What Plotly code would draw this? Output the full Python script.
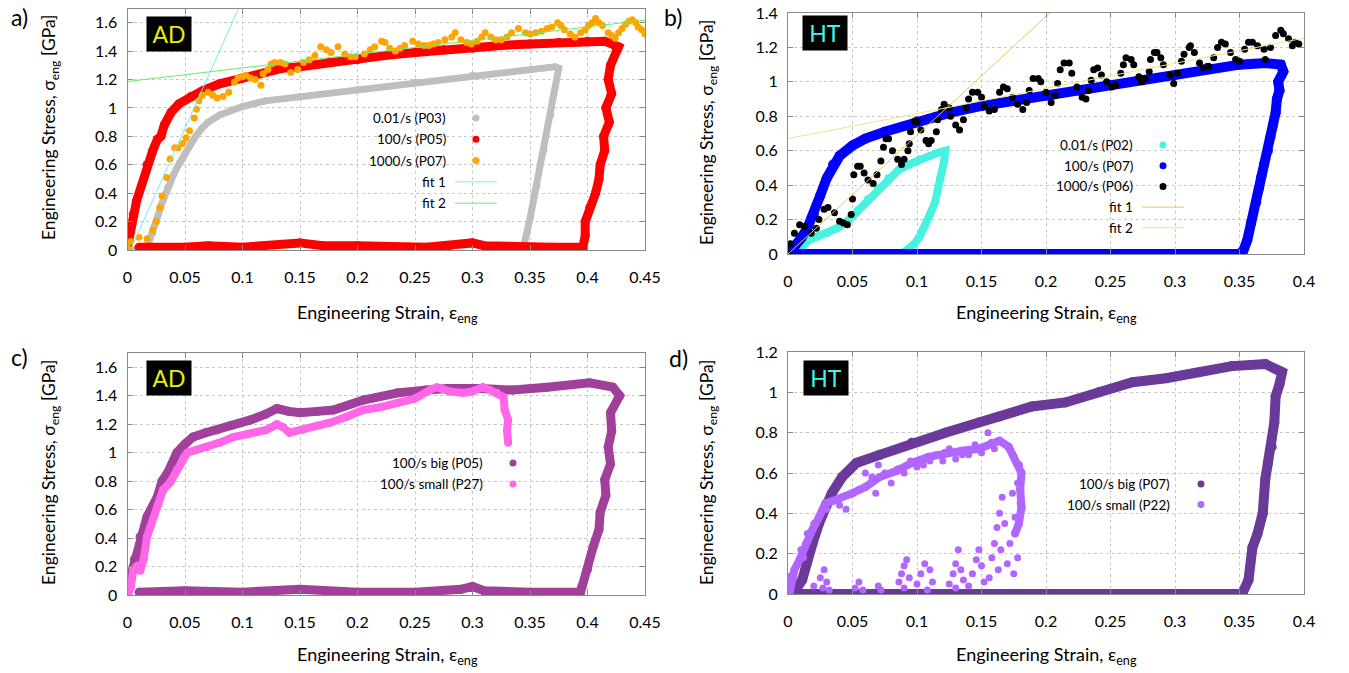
import plotly.graph_objects as go

W, H = 1349, 673
def px(x): return x / W
def py(y): return 1 - y / H

# ---------------- DATA ----------------
# Panel a (AD)
a_p03_x = [0, 0.012, 0.018, 0.022, 0.026, 0.03, 0.035, 0.04, 0.045, 0.05, 0.055, 0.06, 0.065, 0.07, 0.08, 0.09, 0.1, 0.12, 0.15, 0.2, 0.25, 0.3, 0.35, 0.372, 0.375, 0.372, 0.368, 0.362, 0.356, 0.35, 0.346, 0.343]
a_p03_y = [0, 0, 0.04, 0.12, 0.23, 0.33, 0.44, 0.53, 0.61, 0.68, 0.75, 0.81, 0.86, 0.9, 0.95, 0.985, 1.01, 1.05, 1.08, 1.13, 1.18, 1.23, 1.27, 1.29, 1.28, 1.15, 0.95, 0.7, 0.45, 0.22, 0.08, 0.0]

a_p05_x = [0, 0.002, 0.005, 0.008, 0.012, 0.017, 0.022, 0.026, 0.029, 0.032, 0.038, 0.045, 0.055, 0.065, 0.08, 0.1, 0.12, 0.135, 0.15, 0.175, 0.2, 0.225, 0.25, 0.275, 0.3, 0.325, 0.35, 0.375, 0.4, 0.415, 0.427, 0.425, 0.42, 0.418, 0.421, 0.416, 0.419, 0.414, 0.415, 0.411, 0.41, 0.407, 0.402, 0.398, 0.398, 0.396, 0.37, 0.34, 0.31, 0.3, 0.28, 0.26, 0.2, 0.17, 0.15, 0.12, 0.1, 0.07, 0.05, 0.01]
a_p05_y = [0.02, 0.12, 0.25, 0.35, 0.45, 0.6, 0.7, 0.78, 0.8, 0.88, 0.97, 1.03, 1.08, 1.12, 1.17, 1.21, 1.25, 1.28, 1.29, 1.32, 1.34, 1.37, 1.39, 1.41, 1.42, 1.44, 1.45, 1.46, 1.47, 1.47, 1.43, 1.4, 1.3, 1.2, 1.1, 1.0, 0.9, 0.8, 0.7, 0.6, 0.5, 0.4, 0.3, 0.2, 0.1, 0.02, 0.02, 0.02, 0.03, 0.05, 0.03, 0.02, 0.03, 0.03, 0.05, 0.03, 0.02, 0.03, 0.02, 0.02]

a_p07_x = [0.0, 0.003, 0.01, 0.017, 0.022, 0.025, 0.028, 0.03, 0.034, 0.037, 0.041, 0.044, 0.048, 0.051, 0.054, 0.058, 0.06, 0.062, 0.065, 0.07, 0.074, 0.078, 0.083, 0.088, 0.093, 0.096, 0.1, 0.103, 0.107, 0.111, 0.116, 0.118, 0.122, 0.125, 0.128, 0.133, 0.137, 0.142, 0.148, 0.153, 0.158, 0.163, 0.168, 0.173, 0.177, 0.183, 0.189, 0.194, 0.198, 0.206, 0.211, 0.215, 0.221, 0.224, 0.228, 0.233, 0.237, 0.241, 0.248, 0.253, 0.258, 0.262, 0.266, 0.27, 0.276, 0.282, 0.285, 0.29, 0.295, 0.299, 0.304, 0.308, 0.311, 0.316, 0.32, 0.325, 0.33, 0.334, 0.34, 0.346, 0.35, 0.355, 0.36, 0.365, 0.369, 0.374, 0.377, 0.38, 0.385, 0.389, 0.394, 0.398, 0.401, 0.404, 0.407, 0.41, 0.413, 0.418, 0.421, 0.424, 0.427, 0.43, 0.433, 0.436, 0.439, 0.442, 0.444, 0.447, 0.45]
a_p07_y = [0.02, 0.06, 0.09, 0.08, 0.14, 0.2, 0.3, 0.38, 0.51, 0.64, 0.72, 0.72, 0.75, 0.79, 0.84, 0.93, 0.99, 1.05, 1.09, 1.11, 1.09, 1.07, 1.08, 1.11, 1.18, 1.21, 1.22, 1.23, 1.21, 1.2, 1.16, 1.24, 1.27, 1.31, 1.32, 1.32, 1.31, 1.25, 1.27, 1.32, 1.34, 1.37, 1.43, 1.41, 1.39, 1.43, 1.38, 1.36, 1.36, 1.38, 1.41, 1.43, 1.47, 1.46, 1.42, 1.4, 1.42, 1.44, 1.47, 1.45, 1.44, 1.44, 1.45, 1.46, 1.48, 1.5, 1.53, 1.48, 1.46, 1.45, 1.47, 1.5, 1.53, 1.5, 1.48, 1.48, 1.5, 1.53, 1.56, 1.53, 1.52, 1.53, 1.54, 1.56, 1.57, 1.6, 1.58, 1.55, 1.52, 1.5, 1.53, 1.55, 1.58, 1.6, 1.63, 1.6, 1.58, 1.53, 1.51, 1.49, 1.53, 1.56, 1.59, 1.61, 1.62, 1.6, 1.57, 1.55, 1.52]

# fits: (slope, intercept, x_start, x_end)
a_fit1 = (18.1, -0.047, 0.0, 0.1)
a_fit2 = (0.96, 1.186, 0.0, 0.45)

# Panel b (HT)
b_p02_x = [0.004, 0.008, 0.012, 0.016, 0.022, 0.03, 0.038, 0.046, 0.054, 0.062, 0.07, 0.078, 0.086, 0.094, 0.102, 0.11, 0.117, 0.122, 0.121, 0.118, 0.114, 0.11, 0.106, 0.102, 0.098, 0.094, 0.09, 0.086]
b_p02_y = [0.0, 0.02, 0.05, 0.08, 0.1, 0.12, 0.15, 0.19, 0.25, 0.32, 0.38, 0.44, 0.49, 0.52, 0.55, 0.57, 0.59, 0.6, 0.54, 0.44, 0.3, 0.23, 0.16, 0.1, 0.06, 0.03, 0.01, 0.0]

b_p07_x = [0, 0.005, 0.01, 0.015, 0.02, 0.025, 0.03, 0.035, 0.04, 0.05, 0.06, 0.075, 0.1, 0.125, 0.15, 0.175, 0.2, 0.225, 0.25, 0.275, 0.3, 0.325, 0.35, 0.37, 0.382, 0.384, 0.38, 0.381, 0.379, 0.378, 0.376, 0.374, 0.372, 0.369, 0.367, 0.365, 0.363, 0.359, 0.356, 0.353, 0.35, 0.3, 0.2, 0.1, 0.0]
b_p07_y = [0.0, 0.04, 0.09, 0.15, 0.23, 0.34, 0.44, 0.52, 0.57, 0.63, 0.67, 0.71, 0.77, 0.82, 0.86, 0.89, 0.92, 0.95, 0.98, 1.01, 1.04, 1.08, 1.1, 1.11, 1.1, 1.06, 1.0, 0.95, 0.9, 0.82, 0.75, 0.68, 0.6, 0.52, 0.45, 0.38, 0.3, 0.18, 0.08, 0.02, 0.0, 0.0, 0.0, 0.0, 0.0]

b_p06_x = [0.0, 0.002, 0.005, 0.009, 0.013, 0.018, 0.022, 0.024, 0.028, 0.031, 0.036, 0.04, 0.043, 0.046, 0.049, 0.05, 0.051, 0.054, 0.056, 0.059, 0.062, 0.066, 0.069, 0.072, 0.074, 0.076, 0.078, 0.081, 0.085, 0.088, 0.09, 0.093, 0.094, 0.095, 0.098, 0.1, 0.103, 0.107, 0.109, 0.111, 0.115, 0.116, 0.119, 0.121, 0.125, 0.126, 0.13, 0.133, 0.136, 0.138, 0.14, 0.143, 0.147, 0.15, 0.152, 0.156, 0.16, 0.164, 0.167, 0.17, 0.174, 0.178, 0.182, 0.185, 0.187, 0.19, 0.194, 0.196, 0.2, 0.204, 0.207, 0.209, 0.211, 0.214, 0.218, 0.22, 0.224, 0.228, 0.231, 0.233, 0.235, 0.237, 0.24, 0.243, 0.247, 0.251, 0.254, 0.258, 0.26, 0.262, 0.266, 0.268, 0.272, 0.274, 0.277, 0.28, 0.281, 0.284, 0.286, 0.289, 0.291, 0.296, 0.299, 0.302, 0.305, 0.307, 0.311, 0.312, 0.315, 0.319, 0.322, 0.326, 0.33, 0.333, 0.336, 0.339, 0.343, 0.347, 0.35, 0.354, 0.357, 0.36, 0.364, 0.369, 0.37, 0.374, 0.378, 0.382, 0.384, 0.388, 0.391, 0.393, 0.396]
b_p06_y = [0.01, 0.06, 0.12, 0.17, 0.16, 0.12, 0.15, 0.2, 0.26, 0.27, 0.24, 0.19, 0.18, 0.17, 0.23, 0.32, 0.46, 0.51, 0.51, 0.47, 0.43, 0.41, 0.46, 0.54, 0.62, 0.67, 0.67, 0.6, 0.55, 0.52, 0.55, 0.6, 0.64, 0.71, 0.77, 0.77, 0.72, 0.66, 0.64, 0.66, 0.71, 0.78, 0.84, 0.87, 0.85, 0.8, 0.75, 0.72, 0.78, 0.85, 0.9, 0.94, 0.94, 0.91, 0.86, 0.83, 0.84, 0.94, 0.97, 0.96, 0.91, 0.87, 0.84, 0.88, 0.95, 1.02, 1.02, 1.0, 0.94, 0.88, 0.92, 0.99, 1.07, 1.11, 1.11, 1.05, 0.97, 0.91, 0.9, 0.95, 1.01, 1.07, 1.08, 1.04, 1.0, 0.97, 0.98, 1.05, 1.1, 1.14, 1.13, 1.1, 1.03, 1.0, 1.02, 1.06, 1.13, 1.17, 1.17, 1.14, 1.1, 1.04, 0.99, 1.05, 1.12, 1.16, 1.2, 1.21, 1.17, 1.11, 1.08, 1.09, 1.14, 1.2, 1.23, 1.22, 1.17, 1.13, 1.12, 1.19, 1.23, 1.23, 1.21, 1.19, 1.13, 1.2, 1.27, 1.3, 1.28, 1.25, 1.21, 1.23, 1.22]

b_fit1 = (6.9, 0.0, 0.0, 0.22)
b_fit2 = (1.46, 0.67, 0.0, 0.4)

# Panel c (AD)
c_p05_x = [0, 0.003, 0.006, 0.011, 0.017, 0.026, 0.03, 0.035, 0.043, 0.05, 0.057, 0.068, 0.078, 0.09, 0.107, 0.12, 0.13, 0.14, 0.15, 0.165, 0.179, 0.205, 0.235, 0.26, 0.278, 0.307, 0.335, 0.365, 0.402, 0.422, 0.428, 0.42, 0.421, 0.418, 0.42, 0.415, 0.416, 0.411, 0.41, 0.405, 0.4, 0.395, 0.394, 0.35, 0.31, 0.3, 0.29, 0.25, 0.2, 0.15, 0.1, 0.05, 0.01]
c_p05_y = [0.05, 0.15, 0.25, 0.41, 0.55, 0.69, 0.8, 0.86, 1.0, 1.06, 1.11, 1.14, 1.16, 1.19, 1.23, 1.27, 1.31, 1.29, 1.28, 1.29, 1.3, 1.37, 1.42, 1.44, 1.45, 1.45, 1.44, 1.46, 1.49, 1.46, 1.4, 1.28, 1.15, 1.04, 0.92, 0.81, 0.7, 0.58, 0.46, 0.34, 0.18, 0.06, 0.02, 0.02, 0.03, 0.06, 0.04, 0.02, 0.02, 0.04, 0.02, 0.03, 0.02]

c_p27_x = [0.001, 0.003, 0.005, 0.008, 0.011, 0.014, 0.017, 0.02, 0.023, 0.027, 0.031, 0.037, 0.043, 0.052, 0.06, 0.069, 0.08, 0.092, 0.105, 0.121, 0.13, 0.135, 0.141, 0.152, 0.165, 0.176, 0.19, 0.205, 0.22, 0.235, 0.25, 0.263, 0.269, 0.28, 0.292, 0.3, 0.309, 0.315, 0.321, 0.327, 0.328, 0.331, 0.33, 0.331]
c_p27_y = [0.02, 0.06, 0.18, 0.2, 0.17, 0.25, 0.41, 0.48, 0.55, 0.64, 0.74, 0.79, 0.88, 1.0, 1.02, 1.04, 1.07, 1.11, 1.13, 1.16, 1.2, 1.18, 1.14, 1.16, 1.19, 1.21, 1.25, 1.3, 1.32, 1.35, 1.38, 1.44, 1.46, 1.43, 1.42, 1.43, 1.46, 1.44, 1.42, 1.39, 1.3, 1.23, 1.16, 1.07]

# Panel d (HT)
d_p07_x = [0, 0.005, 0.011, 0.014, 0.019, 0.024, 0.029, 0.034, 0.042, 0.053, 0.071, 0.096, 0.122, 0.148, 0.164, 0.189, 0.215, 0.241, 0.267, 0.293, 0.319, 0.344, 0.37, 0.383, 0.381, 0.378, 0.377, 0.375, 0.372, 0.37, 0.368, 0.364, 0.36, 0.357, 0.352, 0.3, 0.2, 0.1, 0.0]
d_p07_y = [0.0, 0.01, 0.07, 0.15, 0.25, 0.35, 0.43, 0.5, 0.58, 0.65, 0.69, 0.75, 0.8, 0.85, 0.88, 0.93, 0.95, 1.0, 1.05, 1.07, 1.1, 1.13, 1.14, 1.1, 1.04, 0.98, 0.85, 0.73, 0.65, 0.57, 0.4, 0.3, 0.23, 0.07, 0.0, 0.0, 0.0, 0.0, 0.0]

d_p22_band_x = [0.001, 0.003, 0.005, 0.009, 0.014, 0.019, 0.024, 0.029, 0.034, 0.039, 0.05, 0.06, 0.071, 0.084, 0.096, 0.109, 0.122, 0.135, 0.148, 0.158, 0.164, 0.171, 0.175, 0.179, 0.181, 0.18, 0.181, 0.179, 0.176]
d_p22_band_y = [0.0, 0.09, 0.12, 0.17, 0.25, 0.32, 0.38, 0.45, 0.46, 0.47, 0.5, 0.53, 0.58, 0.61, 0.65, 0.68, 0.7, 0.71, 0.72, 0.75, 0.76, 0.73, 0.68, 0.64, 0.6, 0.52, 0.43, 0.35, 0.3]
d_p22_scat_x = [0.02, 0.025, 0.028, 0.03, 0.027, 0.032, 0.052, 0.055, 0.058, 0.07, 0.072, 0.086, 0.088, 0.09, 0.092, 0.094, 0.09, 0.1, 0.103, 0.106, 0.11, 0.112, 0.108, 0.125, 0.128, 0.13, 0.132, 0.134, 0.136, 0.13, 0.14, 0.143, 0.146, 0.148, 0.15, 0.152, 0.156, 0.158, 0.16, 0.162, 0.164, 0.166, 0.168, 0.165, 0.163, 0.17, 0.172, 0.175, 0.178, 0.176, 0.174, 0.178, 0.18, 0.06, 0.065, 0.068, 0.07, 0.08, 0.09, 0.1, 0.11, 0.12, 0.13, 0.14, 0.15, 0.155, 0.16, 0.045, 0.04, 0.03, 0.02, 0.015, 0.01, 0.012, 0.075, 0.085, 0.095, 0.105, 0.115, 0.125, 0.135, 0.145, 0.055, 0.065]
d_p22_scat_y = [0.04, 0.08, 0.12, 0.06, 0.03, 0.02, 0.03, 0.06, 0.02, 0.04, 0.02, 0.06, 0.1, 0.14, 0.17, 0.08, 0.03, 0.05, 0.1, 0.15, 0.12, 0.06, 0.02, 0.05, 0.1, 0.15, 0.22, 0.12, 0.07, 0.03, 0.04, 0.1, 0.17, 0.22, 0.14, 0.06, 0.08, 0.18, 0.25, 0.33, 0.4, 0.48, 0.35, 0.22, 0.12, 0.15, 0.25, 0.1, 0.18, 0.38, 0.5, 0.55, 0.45, 0.6, 0.58, 0.5, 0.64, 0.55, 0.6, 0.63, 0.66, 0.66, 0.67, 0.69, 0.7, 0.8, 0.72, 0.42, 0.44, 0.42, 0.35, 0.3, 0.22, 0.18, 0.6, 0.62, 0.66, 0.64, 0.69, 0.72, 0.69, 0.74, 0.52, 0.56]

# Tick labels
x_ticks_ad = [0, 0.05, 0.1, 0.15, 0.2, 0.25, 0.3, 0.35, 0.4, 0.45]
x_ticks_ht = [0, 0.05, 0.1, 0.15, 0.2, 0.25, 0.3, 0.35, 0.4]
y_ticks_ad = [0, 0.2, 0.4, 0.6, 0.8, 1.0, 1.2, 1.4, 1.6]
y_ticks_b = [0, 0.2, 0.4, 0.6, 0.8, 1.0, 1.2, 1.4]
y_ticks_d = [0, 0.2, 0.4, 0.6, 0.8, 1.0, 1.2]

def lab(v):
    return "%g" % v

# Colors
C_GRAY = "#bebebe"; C_RED = "#ff0000"; C_ORANGE = "#ffa500"
C_CYANFIT = "#70f0f0"; C_GREENFIT = "#66ee66"
C_TURQ = "#48f2e0"; C_BLUE = "#0000ff"; C_BLACK = "#000000"
C_FIT1B = "#f2c060"; C_FIT2B = "#f0e08c"
C_PURPLE = "#a0409a"; C_PINK = "#ff66e8"
C_DPURPLE = "#6a3a9a"; C_LPURPLE = "#b066ff"

FONT = "Lato"

fig = go.Figure()

def band(x, y, color, w, ax):
    fig.add_trace(go.Scatter(x=x, y=y, mode="lines+markers", line=dict(color=color, width=w),
                             marker=dict(color=color, size=w), xaxis=ax[0], yaxis=ax[1],
                             showlegend=False, hoverinfo="skip"))

def dots(x, y, color, s, ax):
    fig.add_trace(go.Scatter(x=x, y=y, mode="markers", marker=dict(color=color, size=s),
                             xaxis=ax[0], yaxis=ax[1], showlegend=False, hoverinfo="skip"))

def fitline(f, color, ax):
    m, c, x0, x1 = f
    fig.add_trace(go.Scatter(x=[x0, x1], y=[m * x0 + c, m * x1 + c], mode="lines",
                             line=dict(color=color, width=1), xaxis=ax[0], yaxis=ax[1],
                             showlegend=False, hoverinfo="skip"))

A = ("x", "y"); B = ("x2", "y2"); C = ("x3", "y3"); D = ("x4", "y4")

band(a_p03_x, a_p03_y, C_GRAY, 7, A)
band(a_p05_x, a_p05_y, C_RED, 9, A)
dots(a_p07_x, a_p07_y, C_ORANGE, 7, A)
fitline(a_fit1, C_CYANFIT, A)
fitline(a_fit2, C_GREENFIT, A)

band(b_p02_x, b_p02_y, C_TURQ, 8, B)
band(b_p07_x, b_p07_y, C_BLUE, 10, B)
dots(b_p06_x, b_p06_y, C_BLACK, 7, B)
fitline(b_fit1, C_FIT1B, B)
fitline(b_fit2, C_FIT2B, B)

band(c_p05_x, c_p05_y, C_PURPLE, 9, C)
band(c_p27_x, c_p27_y, C_PINK, 8, C)

band(d_p07_x, d_p07_y, C_DPURPLE, 10, D)
band(d_p22_band_x, d_p22_band_y, C_LPURPLE, 8, D)
dots(d_p22_scat_x, d_p22_scat_y, C_LPURPLE, 7, D)

# ---------------- LAYOUT ----------------
GRID = dict(showgrid=True, gridcolor="#c8c8c8", griddash="dot", gridwidth=1,
            showline=True, linecolor="#8a8a8a", linewidth=1, mirror="allticks",
            ticks="inside", ticklen=5, tickcolor="#8a8a8a", zeroline=False, automargin=False,
            tickfont=dict(family=FONT, size=16, color="black"))

def xax(dom, ticks, rng, anchor):
    d = dict(GRID); d.update(domain=dom, range=rng, tickvals=ticks, ticktext=[lab(t) for t in ticks],
                             anchor=anchor, ticklabelstandoff=13)
    return d

def yax(dom, ticks, rng, anchor):
    d = dict(GRID); d.update(domain=dom, range=rng, tickvals=ticks, ticktext=[lab(t) for t in ticks],
                             anchor=anchor, ticklabelstandoff=6)
    return d

L_DOM = [px(127.5), px(645)]
R_DOM = [px(788), px(1304)]

fig.update_layout(
    width=W, height=H, margin=dict(l=0, r=0, t=0, b=0, autoexpand=False),
    paper_bgcolor="white", plot_bgcolor="white", showlegend=False,
    xaxis=xax(L_DOM, x_ticks_ad, [0, 0.45], "y"),
    yaxis=yax([py(250), py(8.5)], y_ticks_ad, [0, 1.7], "x"),
    xaxis2=xax(R_DOM, x_ticks_ht, [0, 0.4], "y2"),
    yaxis2=yax([py(254), py(13)], y_ticks_b, [0, 1.4], "x2"),
    xaxis3=xax(L_DOM, x_ticks_ad, [0, 0.45], "y3"),
    yaxis3=yax([py(595), py(353)], y_ticks_ad, [0, 1.7], "x3"),
    xaxis4=xax(R_DOM, x_ticks_ht, [0, 0.4], "y4"),
    yaxis4=yax([py(594), py(352)], y_ticks_d, [0, 1.2], "x4"),
)

ann = []
shapes = []

YT = "Engineering Stress, σ<sub>eng</sub> [GPa]"
XT = "Engineering Strain, ε<sub>eng</sub>"
for (xc, yc) in [(50, 128), (708, 132), (50, 473), (708, 472)]:
    ann.append(dict(x=px(xc), y=py(yc), xref="paper", yref="paper", text=YT, textangle=-90,
                    showarrow=False, font=dict(family=FONT, size=17.5, color="black"),
                    xanchor="center", yanchor="middle"))
for (xc, yc) in [(387, 313), (1046, 313), (387, 655), (1046, 655)]:
    ann.append(dict(x=px(xc), y=py(yc), xref="paper", yref="paper", text=XT,
                    showarrow=False, font=dict(family=FONT, size=18, color="black"),
                    xanchor="center", yanchor="middle"))

for (t, xc, yc) in [("a)", 19, 17), ("b)", 673, 17), ("c)", 19, 357), ("d)", 678, 358)]:
    ann.append(dict(x=px(xc), y=py(yc), xref="paper", yref="paper", text=t, showarrow=False,
                    font=dict(family=FONT, size=23, color="black"), xanchor="center", yanchor="middle"))

for (t, col, xc, yc) in [("AD", "#e6f000", 169, 34), ("HT", "#40f5e6", 825, 33),
                          ("AD", "#e6f000", 169, 378), ("HT", "#40f5e6", 826, 378)]:
    ann.append(dict(x=px(xc), y=py(yc), xref="paper", yref="paper", text=t, showarrow=False,
                    font=dict(family=FONT, size=23, color=col), bgcolor="black",
                    width=40, height=30, borderpad=2, xanchor="center", yanchor="middle"))

# legend boxes (white, hide grid)
for (x0, y0, x1, y1) in [(370, 107, 503, 208), (1053, 130, 1192, 236), (373, 449, 532, 496), (1063, 471, 1213, 516)]:
    shapes.append(dict(type="rect", xref="paper", yref="paper", x0=px(x0), x1=px(x1),
                       y0=py(y1), y1=py(y0), fillcolor="white", line=dict(width=0), layer="between"))

legends = [
    (448, 118, 21.3, 476, [("0.01/s (P03)", C_GRAY, "dot"), ("100/s (P05)", C_RED, "dot"),
                           ("1000/s (P07)", C_ORANGE, "dot"), ("fit 1", C_CYANFIT, "line"),
                           ("fit 2", C_GREENFIT, "line")]),
    (1135, 145, 20.7, 1163, [("0.01/s (P02)", C_TURQ, "dot"), ("100/s (P07)", C_BLUE, "dot"),
                             ("1000/s (P06)", C_BLACK, "dot"), ("fit 1", C_FIT1B, "line"),
                             ("fit 2", C_FIT2B, "line")]),
    (485, 463, 21, 513, [("100/s big (P05)", C_PURPLE, "dot"), ("100/s small (P27)", C_PINK, "dot")]),
    (1172, 484, 20.5, 1201, [("100/s big (P07)", C_DPURPLE, "dot"), ("100/s small (P22)", C_LPURPLE, "dot")]),
]
for (xr, y0, dy, xs, items) in legends:
    for i, (t, col, kind) in enumerate(items):
        yy = y0 + i * dy
        ann.append(dict(x=px(xr), y=py(yy), xref="paper", yref="paper", text=t, showarrow=False,
                        font=dict(family=FONT, size=13.5, color="black"), xanchor="right", yanchor="middle"))
        if kind == "dot":
            r = 3.5
            shapes.append(dict(type="circle", xref="paper", yref="paper", x0=px(xs - r), x1=px(xs + r),
                               y0=py(yy + r), y1=py(yy - r), fillcolor=col, line=dict(width=0)))
        else:
            shapes.append(dict(type="line", xref="paper", yref="paper", x0=px(xs - 21), x1=px(xs + 21),
                               y0=py(yy), y1=py(yy), line=dict(color=col, width=1)))

fig.update_layout(annotations=ann, shapes=shapes)
fig.write_html("out.html", config={"displayModeBar": False},
               post_script="document.body.style.margin='0px';document.body.style.padding='0px';")
